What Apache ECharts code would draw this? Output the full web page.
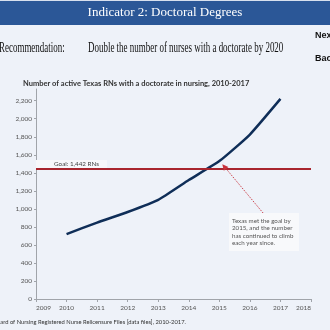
<!DOCTYPE html>
<html><head><meta charset="utf-8">
<script src="https://cdn.jsdelivr.net/npm/echarts@6/dist/echarts.min.js"></script>
<style>html,body{margin:0;padding:0;background:#eef2f9}#c{width:330px;height:330px}</style>
</head><body><div id="c"></div>
<script>
const years = [2010, 2011, 2012, 2013, 2014, 2015, 2016, 2017];
const doctoralRNs = [720, 848, 965, 1100, 1320, 1530, 1825, 2220];
const goalValue = 1442;
const goalLabel = 'Goal: 1,442 RNs';
const yTicks = [0, 200, 400, 600, 800, 1000, 1200, 1400, 1600, 1800, 2000, 2200];
const xTicks = [2009, 2010, 2011, 2012, 2013, 2014, 2015, 2016, 2017, 2018];
const noteLines = ['Texas met the goal by', '2015, and the number', 'has continued to climb', 'each year since.'];

const chart = echarts.init(document.getElementById('c'), null, {renderer: 'canvas'});
const sans = 'Lato, "Open Sans", sans-serif';
chart.setOption({
  backgroundColor: '#eef2f9',
  animation: false,
  grid: {left: 36, right: 19, top: 89, bottom: 31},
  title: {
    text: 'Number of active Texas RNs with a doctorate in nursing, 2010-2017',
    left: 18, top: 75,
    textStyle: {fontFamily: sans, fontSize: 7.5, fontWeight: 'bold', color: '#333'}
  },
  xAxis: {
    type: 'value', min: 2009, max: 2018, interval: 1,
    splitLine: {show: false},
    axisLine: {lineStyle: {color: '#a0a4aa', width: 1}},
    axisTick: {show: true, length: 3, lineStyle: {color: '#a0a4aa'}},
    axisLabel: {
      fontFamily: sans, fontSize: 6.5, color: '#555', margin: 5,
      alignMinLabel: 'left', alignMaxLabel: 'right',
      customValues: xTicks, formatter: v => String(v)
    }
  },
  yAxis: {
    type: 'value', min: 0, max: 2330,
    splitLine: {show: false},
    axisLine: {show: true, lineStyle: {color: '#a0a4aa', width: 1}},
    axisTick: {show: true, length: 2, customValues: yTicks, lineStyle: {color: '#a0a4aa'}},
    axisLabel: {
      fontFamily: sans, fontSize: 6.5, color: '#555', margin: 4,
      customValues: yTicks,
      formatter: v => v.toLocaleString('en-US')
    }
  },
  series: [{
    type: 'line',
    data: years.map((y, i) => [y, doctoralRNs[i]]),
    smooth: 0.15,
    symbol: 'none',
    lineStyle: {color: '#0f2e58', width: 2.5},
    z: 3,
    markLine: {
      silent: true,
      symbol: ['none', 'none'],
      data: [{
        yAxis: goalValue,
        lineStyle: {color: '#a8252e', width: 2, type: 'solid'},
        label: {
          show: true, position: 'insideStartTop', formatter: goalLabel,
          fontFamily: sans, fontSize: 6.3, color: '#444',
          backgroundColor: '#f7f8fb', padding: [1, 8, 1, 18], distance: [0, 1]
        }
      }, [
        {coord: [2016.43, 955], lineStyle: {color: '#c8323c', width: 1, type: [1.2, 1.2]}, label: {show: false}, symbol: 'none'},
        {coord: [2015.16, 1470], symbol: 'triangle', symbolSize: 6}
      ]]
    }
  }],
  graphic: [
    {type: 'rect', shape: {x: 0, y: 0, width: 330, height: 25}, style: {fill: '#2b5797'}},
    {type: 'rect', shape: {x: 0, y: 0, width: 330, height: 1}, style: {fill: '#d8e0ee'}},
    {type: 'text', left: 'center', top: 6, style: {text: 'Indicator 2: Doctoral Degrees', fill: '#fff', font: '13px "Liberation Serif", serif'}},
    {type: 'text', x: -1, y: 41, scaleX: 0.64, style: {text: 'Recommendation:', fill: '#111', font: '14px "Liberation Serif", serif'}},
    {type: 'text', x: 88, y: 41, scaleX: 0.64, style: {text: 'Double the number of nurses with a doctorate by 2020', fill: '#111', font: '14px "Liberation Serif", serif'}},
    {type: 'text', x: 315, y: 31, style: {text: 'Next', fill: '#111', font: 'bold 9px "Liberation Sans", sans-serif'}},
    {type: 'text', x: 315, y: 54, style: {text: 'Back', fill: '#111', font: 'bold 9px "Liberation Sans", sans-serif'}},
    {type: 'rect', shape: {x: 229, y: 213, width: 70, height: 38}, style: {fill: '#f8f9fb'}},
    {type: 'text', x: 232, y: 217, style: {text: noteLines.join('\n'), fill: '#555', lineHeight: 7.5, font: '6.2px Lato, sans-serif'}},
    {type: 'text', x: -3, y: 319, style: {text: 'oard of Nursing Registered Nurse Relicensure Files [data files], 2010-2017.', fill: '#333', font: '5.8px Lato, sans-serif'}}
  ]
});
</script></body></html>
